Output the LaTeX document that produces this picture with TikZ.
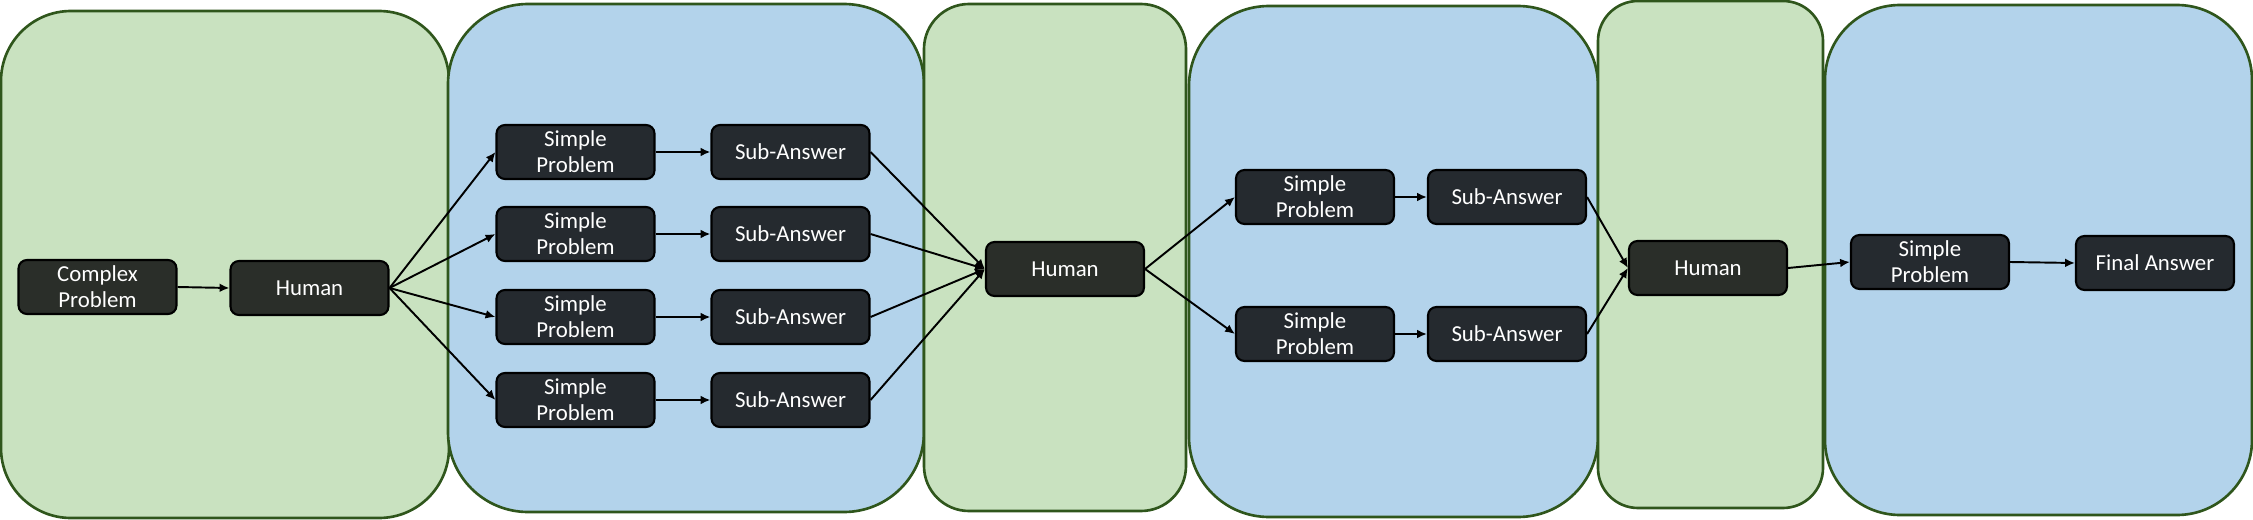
\documentclass[tikz,border=0pt]{standalone}
\usepackage{fontspec}
\setmainfont{Carlito}
\usetikzlibrary{arrows.meta}

\definecolor{panelgreen}{HTML}{C9E2C0}
\definecolor{panelblue}{HTML}{B3D3EB}
\definecolor{paneledge}{HTML}{2F561C}
\definecolor{taskfill}{HTML}{252A2F}
\definecolor{humanfill}{HTML}{2A2E29}

\begin{document}
\begin{tikzpicture}[
	greenpanel/.style = {fill=panelgreen, draw=paneledge, line width=0.75pt},
	bluepanel/.style = {fill=panelblue, draw=paneledge, line width=0.75pt},
	task/.style = {rectangle, rounded corners=2.4pt, fill=taskfill, draw=black, line width=0.6pt,
		minimum width=1.58cm, minimum height=0.54cm, inner sep=0pt, text=white, align=center,
		font=\fontsize{6.5}{7.4}\selectfont},
	human/.style = {task, fill=humanfill},
	link/.style = {-{Latex[length=2.8pt,width=2.5pt]}, line width=0.55pt, black}
	]
	\useasboundingbox (0,0) rectangle (22.53,5.19);
	
	\draw [greenpanel, rounded corners=0.7cm] (0.01,5.08) rectangle (4.49,0.01);
	\draw [bluepanel, rounded corners=0.8cm] (4.48,5.15) rectangle (9.24,0.07);
	\draw [greenpanel, rounded corners=0.45cm] (9.24,5.15) rectangle (11.86,0.08);
	\draw [bluepanel, rounded corners=0.8cm] (11.89,5.13) rectangle (15.98,0.02);
	\draw [greenpanel, rounded corners=0.4cm] (15.98,5.18) rectangle (18.23,0.11);
	\draw [bluepanel, rounded corners=0.75cm] (18.25,5.14) rectangle (22.52,0.04);
	
	\node [human] (complex) at (0.975, 2.32) {Complex\\Problem};
	\node [human] (human1) at (3.095, 2.31) {Human};
	
	\node [task] (simple1) at (5.755, 3.67) {Simple\\Problem};
	\node [task] (simple2) at (5.755, 2.85) {Simple\\Problem};
	\node [task] (simple3) at (5.755, 2.02) {Simple\\Problem};
	\node [task] (simple4) at (5.755, 1.19) {Simple\\Problem};
	
	\node [task] (sub1) at (7.905, 3.67) {Sub-Answer};
	\node [task] (sub2) at (7.905, 2.85) {Sub-Answer};
	\node [task] (sub3) at (7.905, 2.02) {Sub-Answer};
	\node [task] (sub4) at (7.905, 1.19) {Sub-Answer};
	
	\node [human] (human2) at (10.65, 2.50) {Human};
	
	\node [task] (simple5) at (13.15, 3.22) {Simple\\Problem};
	\node [task] (simple6) at (13.15, 1.85) {Simple\\Problem};
	\node [task] (sub5) at (15.07, 3.22) {Sub-Answer};
	\node [task] (sub6) at (15.07, 1.85) {Sub-Answer};
	
	\node [human] (human3) at (17.08, 2.51) {Human};
	\node [task] (simple7) at (19.30, 2.57) {Simple\\Problem};
	\node [task] (final) at (21.55, 2.56) {Final Answer};
	
	\draw [link] (complex.east) -- (human1.west);
	
	\draw [link] (human1.east) -- (simple1.west);
	\draw [link] (human1.east) -- (simple2.west);
	\draw [link] (human1.east) -- (simple3.west);
	\draw [link] (human1.east) -- (simple4.west);
	
	\draw [link] (simple1) -- (sub1);
	\draw [link] (simple2) -- (sub2);
	\draw [link] (simple3) -- (sub3);
	\draw [link] (simple4) -- (sub4);
	
	\draw [link] (sub1.east) -- (human2.west);
	\draw [link] (sub2.east) -- (human2.west);
	\draw [link] (sub3.east) -- (human2.west);
	\draw [link] (sub4.east) -- (human2.west);
	
	\draw [link] (human2.east) -- (simple5.west);
	\draw [link] (human2.east) -- (simple6.west);
	\draw [link] (simple5) -- (sub5);
	\draw [link] (simple6) -- (sub6);
	
	\draw [link] (sub5.east) -- (human3.west);
	\draw [link] (sub6.east) -- (human3.west);
	
	\draw [link] (human3.east) -- (simple7.west);
	\draw [link] (simple7.east) -- (final.west);
\end{tikzpicture}
\end{document}
